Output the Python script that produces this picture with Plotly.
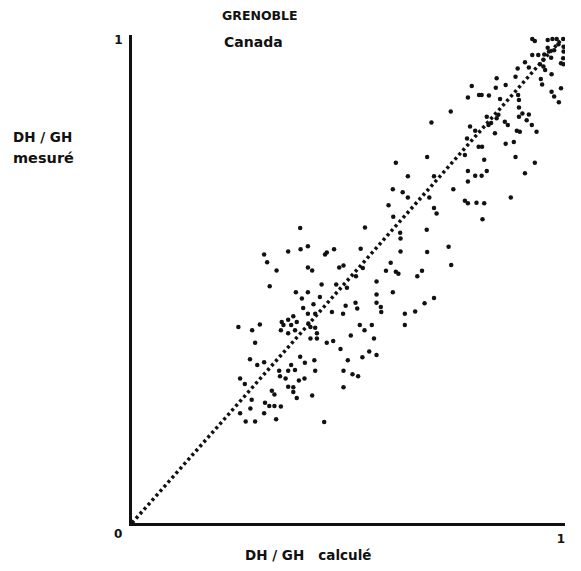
import plotly.graph_objects as go

# ---- data ----
SCATTER_X = [
    0.392, 0.308, 0.364, 0.393, 0.410, 0.450, 0.454, 0.471, 0.315, 0.337,
    0.410, 0.420, 0.483, 0.493, 0.321, 0.442, 0.476, 0.382, 0.410, 0.396,
    0.438, 0.423, 0.399, 0.498, 0.410, 0.427, 0.466, 0.492, 0.248, 0.298,
    0.280, 0.349, 0.353, 0.364, 0.376, 0.371, 0.384, 0.347, 0.364, 0.380,
    0.411, 0.416, 0.427, 0.431, 0.416, 0.431, 0.287, 0.454, 0.469, 0.510,
    0.275, 0.292, 0.308, 0.252, 0.263, 0.343, 0.345, 0.364, 0.371, 0.380,
    0.392, 0.403, 0.425, 0.427, 0.358, 0.389, 0.402, 0.364, 0.376, 0.326,
    0.332, 0.376, 0.384, 0.420, 0.279, 0.310, 0.276, 0.320, 0.332, 0.347,
    0.252, 0.308, 0.265, 0.287, 0.336, 0.448, 0.493, 0.493, 0.486, 0.603,
    0.744, 0.592, 0.615, 0.621, 0.665, 0.676, 0.570, 0.608, 0.570, 0.570,
    0.580, 0.581, 0.521, 0.525, 0.636, 0.660, 0.682, 0.704, 0.636, 0.531,
    0.542, 0.559, 0.564, 0.553, 0.570, 0.537, 0.503, 0.514, 0.527, 0.501,
    0.522, 0.538, 0.688, 0.615, 0.643, 0.704, 0.749, 0.608, 0.631, 0.643,
    0.693, 0.598, 0.704, 0.710, 0.609, 0.543, 0.625, 0.626, 0.687, 0.533,
    0.626, 0.688, 0.738, 0.871, 0.890, 0.808, 0.816, 0.776, 0.821, 0.894,
    0.939, 0.916, 0.783, 0.800, 0.815, 0.827, 0.783, 0.776, 0.783, 0.803,
    0.821, 0.883, 0.817, 0.743, 0.698, 0.933, 0.939, 0.969, 0.980, 0.990,
    1.005, 0.969, 0.972, 0.984, 0.994, 1.006, 1.006, 1.005, 1.000, 1.006,
    0.977, 0.961, 0.947, 0.933, 0.959, 0.951, 0.916, 0.925, 0.959, 0.963,
    0.899, 0.894, 0.978, 0.956, 0.953, 0.850, 0.871, 0.848, 0.792, 1.000,
    0.978, 0.984, 0.995, 0.783, 0.809, 0.815, 0.832, 0.900, 0.902, 0.858,
    0.902, 0.910, 0.925, 0.920, 0.932, 0.943, 0.902, 0.897, 0.904, 0.869,
    0.876, 0.850, 0.854, 0.831, 0.837, 0.846, 0.827, 0.788, 0.800, 0.781,
]
SCATTER_Y = [
    0.611, 0.556, 0.562, 0.567, 0.573, 0.556, 0.560, 0.567, 0.540, 0.523,
    0.529, 0.523, 0.529, 0.533, 0.490, 0.494, 0.494, 0.478, 0.478, 0.465,
    0.468, 0.453, 0.445, 0.450, 0.433, 0.433, 0.437, 0.433, 0.406, 0.411,
    0.399, 0.416, 0.410, 0.421, 0.428, 0.410, 0.416, 0.399, 0.393, 0.399,
    0.413, 0.406, 0.404, 0.393, 0.382, 0.382, 0.373, 0.373, 0.377, 0.388,
    0.339, 0.327, 0.333, 0.299, 0.288, 0.315, 0.304, 0.315, 0.327, 0.317,
    0.344, 0.332, 0.337, 0.315, 0.299, 0.295, 0.299, 0.282, 0.281, 0.274,
    0.266, 0.271, 0.259, 0.264, 0.255, 0.249, 0.237, 0.242, 0.242, 0.241,
    0.227, 0.227, 0.210, 0.210, 0.215, 0.209, 0.315, 0.281, 0.360, 0.539,
    0.534, 0.522, 0.520, 0.516, 0.511, 0.522, 0.500, 0.478, 0.473, 0.456,
    0.447, 0.437, 0.456, 0.444, 0.433, 0.438, 0.455, 0.466, 0.410, 0.410,
    0.399, 0.410, 0.382, 0.355, 0.348, 0.343, 0.337, 0.308, 0.304, 0.487,
    0.511, 0.528, 0.758, 0.746, 0.718, 0.718, 0.691, 0.691, 0.685, 0.674,
    0.674, 0.658, 0.652, 0.641, 0.634, 0.612, 0.601, 0.589, 0.607, 0.568,
    0.562, 0.561, 0.572, 0.785, 0.789, 0.779, 0.779, 0.762, 0.752, 0.758,
    0.746, 0.724, 0.729, 0.719, 0.719, 0.729, 0.707, 0.667, 0.662, 0.663,
    0.662, 0.674, 0.629, 0.852, 0.829, 1.002, 0.998, 1.000, 1.002, 1.002,
    1.002, 0.984, 0.976, 0.979, 0.991, 0.986, 0.976, 0.962, 0.952, 0.950,
    0.963, 0.970, 0.969, 0.969, 0.959, 0.950, 0.954, 0.943, 0.945, 0.938,
    0.941, 0.924, 0.929, 0.908, 0.919, 0.921, 0.907, 0.901, 0.905, 0.900,
    0.893, 0.883, 0.871, 0.881, 0.886, 0.886, 0.885, 0.886, 0.876, 0.878,
    0.860, 0.848, 0.846, 0.834, 0.824, 0.810, 0.841, 0.812, 0.810, 0.831,
    0.824, 0.838, 0.845, 0.824, 0.828, 0.807, 0.841, 0.821, 0.812, 0.796,
]
# 1:1 reference line (drawn dotted)
DIAG_X = [0.0, 1.0]
DIAG_Y = [0.0, 1.0]

TITLE = "GRENOBLE"
SUBTITLE = "Canada"
Y_LABEL = ["DH / GH", "mesuré"]
X_LABEL = "DH / GH\u00a0\u00a0\u00a0calculé"
ORIGIN_LABEL = "0"
X_TICK_VALS = [1]
X_TICK_TEXT = ["1"]
Y_TICK_VALS = [1]
Y_TICK_TEXT = ["1"]

# ---- layout geometry (page pixels; the page body has an 8px margin) ----
BODY = 8
W, H = 581 - BODY, 571 - 2 * BODY
PLOT_L, PLOT_R, PLOT_T, PLOT_B = 132, 565, 35, 523     # page coords
ML = PLOT_L - BODY
MT = PLOT_T - BODY
MR = W - ML - (PLOT_R - PLOT_L)
MB = H - MT - (PLOT_B - PLOT_T)
PW, PH = PLOT_R - PLOT_L, PLOT_B - PLOT_T
XR = [0, PW / 429.0]
YR = [0, PH / 483.0]

FONT = "DejaVu Sans"
BLACK = "#111111"


def px(xp):
    return (xp - PLOT_L) / PW


def py(yp):
    return (PLOT_B - yp) / PH


fig = go.Figure()
fig.add_trace(go.Scatter(
    x=DIAG_X, y=DIAG_Y, mode="lines",
    line=dict(color=BLACK, width=3.5, dash="3px,3px"),
    hoverinfo="skip", showlegend=False,
))
fig.add_trace(go.Scatter(
    x=SCATTER_X, y=SCATTER_Y, mode="markers",
    marker=dict(color=BLACK, size=4.5, line=dict(width=0)),
    showlegend=False,
))

ann = []


def add(text, x, y, xanchor="left", size=13.5):
    ann.append(dict(text=text, x=px(x), y=py(y), xref="paper", yref="paper",
                    xanchor=xanchor, yanchor="middle", showarrow=False,
                    borderpad=0,
                    font=dict(family=FONT, size=size, color=BLACK, weight="bold")))


add(TITLE, 221, 15, size=12.5)
add(SUBTITLE, 223, 42, size=14)
add(Y_LABEL[0], 12, 137)
add(Y_LABEL[1], 12, 158, size=14.5)
add(X_LABEL, 244, 555)
add(ORIGIN_LABEL, 118, 534, "center", 12)

tickfont = dict(family=FONT, size=12, color=BLACK, weight="bold")
fig.update_layout(
    width=W, height=H,
    margin=dict(l=ML, r=MR, t=MT, b=MB, pad=0),
    paper_bgcolor="white", plot_bgcolor="white",
    annotations=ann,
    xaxis=dict(range=XR, showgrid=False, zeroline=False, showline=True,
               linecolor=BLACK, linewidth=3, ticks="", tickvals=X_TICK_VALS,
               ticktext=X_TICK_TEXT, ticklabelstandoff=3, tickfont=tickfont),
    yaxis=dict(range=YR, showgrid=False, zeroline=False, showline=True,
               linecolor=BLACK, linewidth=3, ticks="", tickvals=Y_TICK_VALS,
               ticktext=Y_TICK_TEXT, ticklabelstandoff=4, tickfont=tickfont),
)

fig.write_html("out.html")
